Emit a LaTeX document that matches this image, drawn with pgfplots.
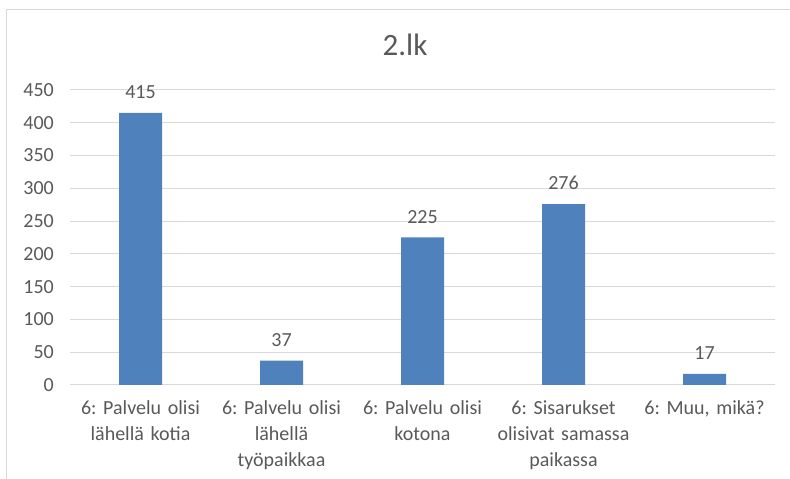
\documentclass[border=0pt]{standalone}
\usepackage{fontspec}
\setmainfont{Carlito}
\usepackage{pgfplots}
\pgfplotsset{compat=1.18}
\definecolor{barblue}{HTML}{4F81BD}
\definecolor{txt}{HTML}{595959}
\definecolor{gridc}{HTML}{D9D9D9}
\frenchspacing
\begin{document}
\begin{tikzpicture}[x=1pt,y=1pt]
\useasboundingbox (0,0) rectangle (790,479);
\draw[gridc, line width=1.3pt] (6.5,0) -- (6.5,469.5) -- (790,469.5);
\node[txt, font=\fontsize{31}{34}\selectfont] at (405,434) {2.lk};
\begin{axis}[
  at={(70pt,94pt)}, anchor=south west,
  scale only axis, width=705pt, height=295pt,
  xmin=-0.5, xmax=4.5, ymin=0, ymax=450,
  ytick={0,50,...,450},
  xtick={0,1,2,3,4},
  xticklabels={{6: Palvelu olisi\\lähellä kotia},{6: Palvelu olisi\\lähellä\\työpaikkaa},{6: Palvelu olisi\\kotona},{6: Sisarukset\\olisivat samassa\\paikassa},{6: Muu, mikä?}},
  axis line style={draw=none},
  tick style={draw=none},
  ymajorgrids, grid style={gridc, line width=1pt},
  /pgf/number format/assume math mode=true,
  ticklabel style={color=txt, font=\fontsize{20}{26}\selectfont},
  yticklabel style={inner sep=0pt, xshift=-16pt},
  xticklabel style={inner sep=0pt, yshift=-11pt, text width=160pt, align=center, anchor=north},
  ybar, bar width=43pt,
  nodes near coords,
  every node near coord/.append style={color=txt, font=\fontsize{20}{24}\selectfont, inner sep=0pt, yshift=14pt},
]
\addplot[fill=barblue, draw=none] coordinates {(0,415) (1,37) (2,225) (3,276) (4,17)};
\end{axis}
\end{tikzpicture}
\end{document}
